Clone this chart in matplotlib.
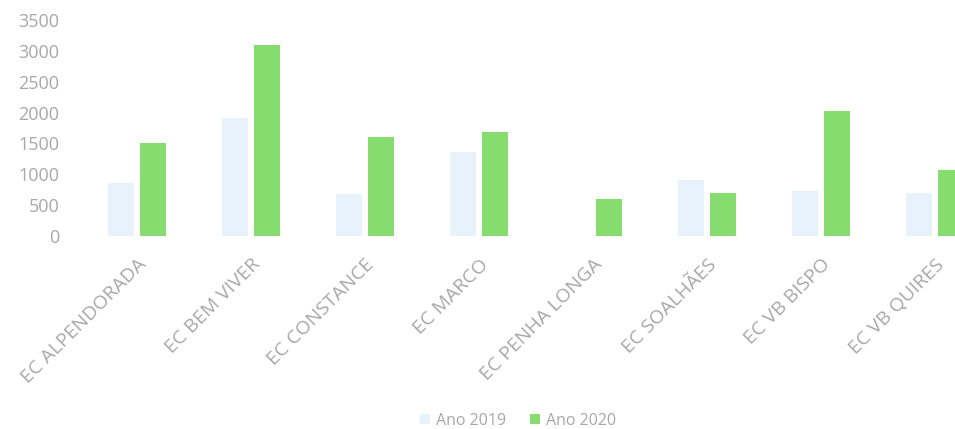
import matplotlib
matplotlib.use("Agg")
import matplotlib.pyplot as plt
import numpy as np

categories = ["EC ALPENDORADA", "EC BEM VIVER", "EC CONSTANCE", "EC MARCO",
              "EC PENHA LONGA", "EC SOALHÃES", "EC VB BISPO", "EC VB QUIRES"]
ano_2019 = [860, 1910, 680, 1360, 0, 900, 730, 690]
ano_2020 = [1500, 3100, 1600, 1690, 600, 700, 2030, 1070]
series_labels = ["Ano 2019", "Ano 2020"]

plt.rcParams['font.family'] = ['Open Sans', 'DejaVu Sans']
text_color = '#a8a8a8'

fig = plt.figure(figsize=(9.55, 4.29), dpi=100)
# axes runs past the right edge, the reference is cut off there
ax = fig.add_axes([80 / 955, 193 / 429, 912 / 955, 216 / 429])

x = np.arange(len(categories))
width = 0.23
ax.bar(x - 0.14, ano_2019, width, color='#e8f2fa', label=series_labels[0])
ax.bar(x + 0.14, ano_2020, width, color='#86dc6e', label=series_labels[1])

ax.set_xlim(-0.5, len(categories) - 0.5)
ax.set_ylim(0, 3500)
ax.set_yticks(np.arange(0, 3501, 500))
ax.set_xticks(x)
ax.set_xticklabels(categories, rotation=45, ha='right', rotation_mode='anchor')

for s in ax.spines.values():
    s.set_visible(False)
ax.tick_params(axis='both', length=0, colors=text_color)
ax.tick_params(axis='y', labelsize=13, pad=15)
ax.tick_params(axis='x', labelsize=14, pad=14)

fig.legend(loc='center', bbox_to_anchor=(518 / 955, 1 - 421 / 429), ncol=2,
           frameon=False, fontsize=11.5, labelcolor=text_color,
           handlelength=0.6, handleheight=0.6, handletextpad=0.4, columnspacing=1.5)

fig.savefig('out.png', dpi=100)
